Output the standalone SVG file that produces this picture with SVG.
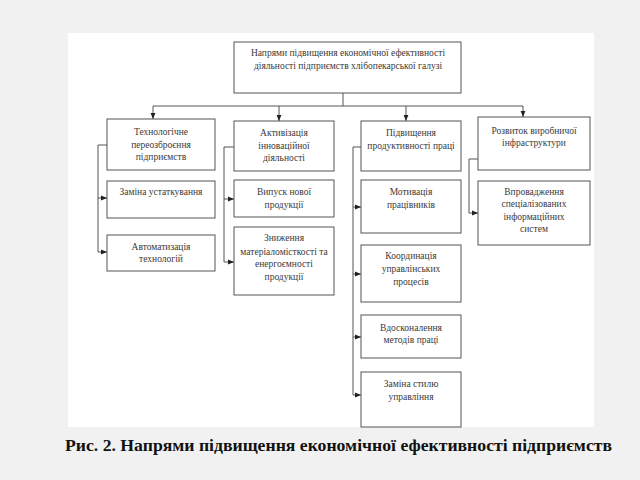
<svg xmlns="http://www.w3.org/2000/svg" width="640" height="480" viewBox="0 0 640 480">
<style>
.box{fill:#fff;stroke:#555;stroke-width:1}
.t{font-family:'Liberation Serif','DejaVu Serif',serif;font-size:9.5px;fill:#3a3a3a;text-anchor:middle}
.ln{fill:none;stroke:#555;stroke-width:1}
.cap{font-family:'Liberation Serif','DejaVu Serif',serif;font-size:17px;font-weight:bold;fill:#111}
</style>
<defs>
<marker id="ah" viewBox="0 0 10 10" refX="10" refY="5" markerWidth="6" markerHeight="6" orient="auto" markerUnits="userSpaceOnUse">
<path d="M0,1 L10,5 L0,9 z" fill="#222"/>
</marker>
</defs>
<rect x="0" y="0" width="640" height="480" fill="#f1f1f1"/>
<rect x="68" y="33" width="526" height="394" fill="#fff"/>

<g id="connectors">
<path class="ln" d="M343,93 V106 M153,106 H523"/>
<path class="ln" d="M153,106 V119" marker-end="url(#ah)"/>
<path class="ln" d="M279,106 V121" marker-end="url(#ah)"/>
<path class="ln" d="M406,106 V121" marker-end="url(#ah)"/>
<path class="ln" d="M523,106 V117" marker-end="url(#ah)"/>
<path class="ln" d="M107,145 H98 V252"/>
<path class="ln" d="M98,198 H107" marker-end="url(#ah)"/>
<path class="ln" d="M98,252 H107" marker-end="url(#ah)"/>
<path class="ln" d="M234,147 H224 V262"/>
<path class="ln" d="M224,199 H234" marker-end="url(#ah)"/>
<path class="ln" d="M224,262 H234" marker-end="url(#ah)"/>
<path class="ln" d="M361,147 H353 V395"/>
<path class="ln" d="M353,207 H361" marker-end="url(#ah)"/>
<path class="ln" d="M353,274 H361" marker-end="url(#ah)"/>
<path class="ln" d="M353,337 H361" marker-end="url(#ah)"/>
<path class="ln" d="M353,395 H361" marker-end="url(#ah)"/>
<path class="ln" d="M478,159 H469 V213"/>
<path class="ln" d="M469,213 H478" marker-end="url(#ah)"/>
</g>

<g id="top">
<rect class="box" x="234" y="42" width="227" height="51"/>
<text class="t" x="348" y="56">Напрями підвищення економічної ефективності</text>
<text class="t" x="348" y="69">діяльності підприємств хлібопекарської галузі</text>
</g>

<g id="c1">
<rect class="box" x="107" y="119" width="108" height="51"/>
<text class="t" x="161" y="135">Технологічне</text>
<text class="t" x="161" y="148">переозброєння</text>
<text class="t" x="161" y="160">підприємств</text>
</g>
<g id="c1a">
<rect class="box" x="107" y="181" width="108" height="37"/>
<text class="t" x="161" y="195">Заміна устаткування</text>
</g>
<g id="c1b">
<rect class="box" x="107" y="235" width="108" height="36"/>
<text class="t" x="161" y="250">Автоматизація</text>
<text class="t" x="161" y="262">технологій</text>
</g>

<g id="c2">
<rect class="box" x="234" y="121" width="100" height="50"/>
<text class="t" x="284" y="136">Активізація</text>
<text class="t" x="284" y="149">інноваційної</text>
<text class="t" x="284" y="161">діяльності</text>
</g>
<g id="c2a">
<rect class="box" x="234" y="180" width="100" height="37"/>
<text class="t" x="284" y="195">Випуск нової</text>
<text class="t" x="284" y="208">продукції</text>
</g>
<g id="c2b">
<rect class="box" x="234" y="227" width="100" height="68"/>
<text class="t" x="284" y="241">Зниження</text>
<text class="t" x="284" y="255">матеріаломісткості та</text>
<text class="t" x="284" y="267">енергоємності</text>
<text class="t" x="284" y="280">продукції</text>
</g>

<g id="c3">
<rect class="box" x="361" y="121" width="100" height="50"/>
<text class="t" x="411" y="136">Підвищення</text>
<text class="t" x="411" y="149">продуктивності праці</text>
</g>
<g id="c3a">
<rect class="box" x="361" y="180" width="100" height="53"/>
<text class="t" x="411" y="195">Мотивація</text>
<text class="t" x="411" y="208">працівників</text>
</g>
<g id="c3b">
<rect class="box" x="361" y="245" width="100" height="57"/>
<text class="t" x="411" y="259">Координація</text>
<text class="t" x="411" y="272">управлінських</text>
<text class="t" x="411" y="285">процесів</text>
</g>
<g id="c3c">
<rect class="box" x="361" y="315" width="100" height="43"/>
<text class="t" x="411" y="331">Вдосконалення</text>
<text class="t" x="411" y="343">методів праці</text>
</g>
<g id="c3d">
<rect class="box" x="361" y="372" width="100" height="55"/>
<text class="t" x="411" y="387">Заміна стилю</text>
<text class="t" x="411" y="400">управління</text>
</g>

<g id="c4">
<rect class="box" x="478" y="117" width="112" height="53"/>
<text class="t" x="534" y="134">Розвиток виробничої</text>
<text class="t" x="534" y="146">інфраструктури</text>
</g>
<g id="c4a">
<rect class="box" x="478" y="181" width="112" height="64"/>
<text class="t" x="534" y="195">Впровадження</text>
<text class="t" x="534" y="207">спеціалізованих</text>
<text class="t" x="534" y="220">інформаційних</text>
<text class="t" x="534" y="232">систем</text>
</g>

<text class="cap" x="65" y="451" textLength="547" lengthAdjust="spacingAndGlyphs">Рис. 2. Напрями підвищення економічної ефективності підприємств</text>
</svg>
